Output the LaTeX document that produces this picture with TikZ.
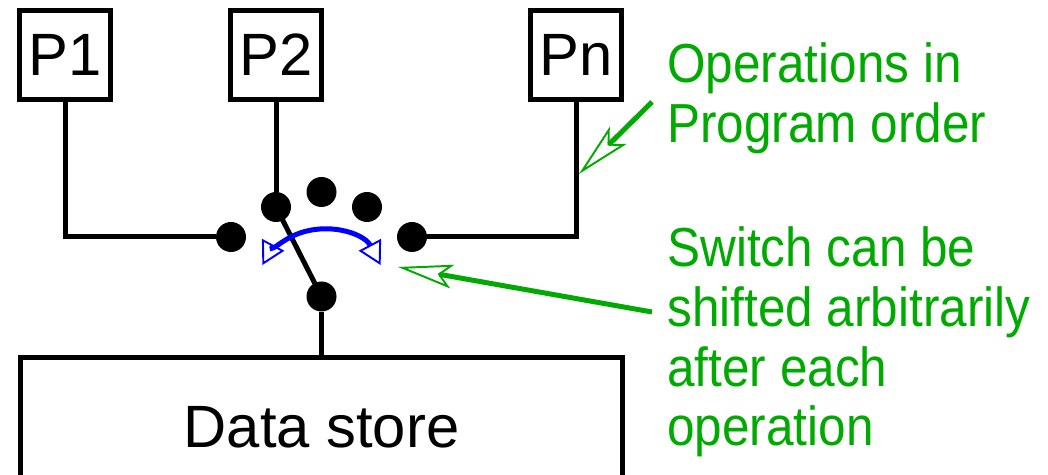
\documentclass[tikz,border=0pt]{standalone}
\usepackage{fontspec}
\setmainfont{Liberation Sans}
\newfontfamily\notefont[FakeStretch=0.9]{Liberation Sans}
\usetikzlibrary{arrows.meta, positioning}
\definecolor{noteG}{RGB}{0,170,0}
\definecolor{swingB}{RGB}{0,0,255}

\begin{document}
\begin{tikzpicture}[
  x=0.02cm, y=0.02cm,
  procbox/.style={
    draw, line width=0.1cm,
    minimum width=1.82cm, minimum height=1.78cm,
    inner sep=0pt, font=\fontsize{34}{40}\selectfont
  },
  storebox/.style={
    draw, line width=0.1cm,
    minimum width=12.04cm, minimum height=2.8cm,
    font=\fontsize{34}{40}\selectfont
  },
  contact/.style={circle, fill=black, inner sep=0pt, minimum size=0.6cm},
  wire/.style={line width=0.1cm},
  swing/.style={
    {Triangle[open, length=0.46cm, width=0.5cm, line width=1.1pt]}-{Triangle[open, length=0.46cm, width=0.5cm, line width=1.1pt]},
    line width=0.1cm, swingB
  },
  note/.style={
    text=noteG, align=left, anchor=north west, inner sep=0pt,
    font=\notefont\fontsize{31.3}{34.1}\selectfont
  },
  notearr/.style={-{Stealth[open, length=1.1cm, width=0.48cm, inset=0.24cm, line width=1.1pt]}, line width=0.1cm, noteG},
]
\clip (0,0) rectangle (1048,-475);

%% ═══ PROCESSORS ═══
\node[procbox] (p1) at (65,-55) {P1};
\node[procbox] (p2) at (276,-55) {P2};
\node[procbox] (pn) at (576,-55) {Pn};

%% ═══ SWITCH CONTACTS ═══
\node[contact] (d1) at (231,-237) {};
\node[contact] (d2) at (276,-207) {};
\node[contact] (d3) at (321.5,-192) {};
\node[contact] (d4) at (367,-207) {};
\node[contact] (d5) at (412,-237) {};
\node[contact] (pivot) at (321.5,-296.5) {};

%% ═══ DATA STORE ═══
\node[storebox] (store) at (321.5,-427) {Data store};

\draw[wire] (p1.south) |- (d1);
\draw[wire] (p2.south) -- (d2);
\draw[wire] (pn.south) |- (d5);
\draw[wire] (d2.center) -- (pivot.center);
\draw[wire] (pivot) -- (store);

%% ═══ SWING ═══
\draw[swing] (pivot.center) ++(28:67) arc[start angle=28, end angle=152, radius=1.34cm];

%% ═══ NOTES ═══
\node[note] (ops) at (667,-42.5) {Operations in\\Program order};
\node[note] (sw) at (667,-226) {Switch can be\\shifted arbitrarily\\after each\\operation};

\coordinate (opsTail) at (652,-102);
\coordinate (opsTip) at (579,-174);
\draw[notearr] (opsTail) -- (opsTip);

\coordinate (swTail) at (652,-312);
\coordinate (swTip) at (398,-267);
\draw[notearr] (swTail) -- (swTip);

\end{tikzpicture}
\end{document}
